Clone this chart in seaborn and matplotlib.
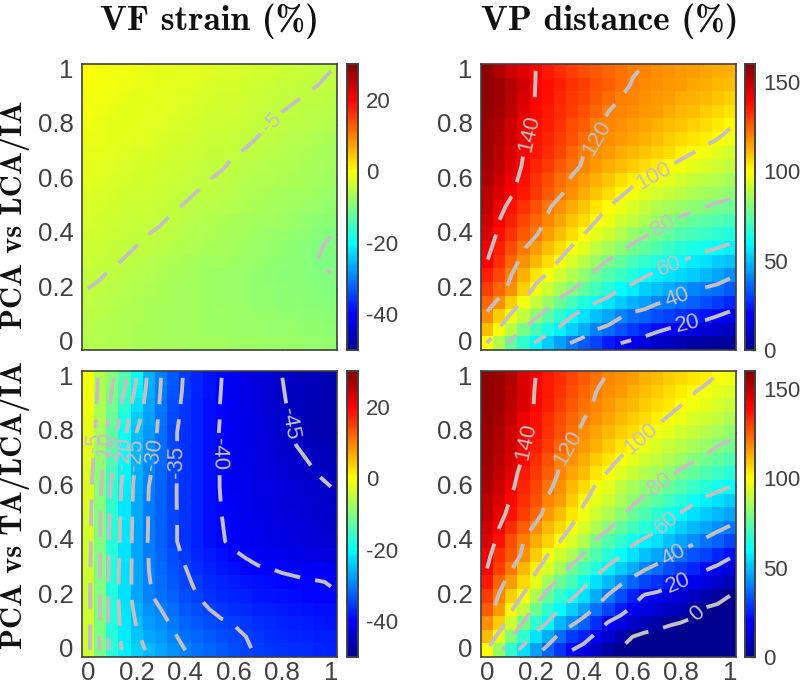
import matplotlib
matplotlib.use('Agg')
import matplotlib.pyplot as plt
from matplotlib.colors import LinearSegmentedColormap
import seaborn as sns
import numpy as np
import pandas as pd

sns.set_style('white')
plt.rcParams['font.family'] = ['Liberation Sans', 'DejaVu Sans']
plt.rcParams['axes.unicode_minus'] = False

# rows run from y = 1 (top) down to y = 0, columns from x = 0 to x = 1
grid = [0, .05, .1, .15, .2, .25, .3, .35, .4, .45, .5, .55, .6, .65, .7, .75, .8, .85, .9, .95, 1]
grid_rows = grid[::-1]
tick_values = [0, .2, .4, .6, .8, 1]
tick_labels = ['0', '0.2', '0.4', '0.6', '0.8', '1']

strain_lca = [
    [-.5, -.7, -1, -1.2, -1.5, -1.7, -1.9, -2.1, -2.3, -2.5, -2.7, -2.9, -3.1, -3.3, -3.5, -3.7, -3.9, -4.1, -4.4, -4.7, -5],
    [-.7, -.9, -1.2, -1.4, -1.6, -1.8, -2.1, -2.3, -2.5, -2.8, -3, -3.2, -3.4, -3.7, -3.9, -4.1, -4.4, -4.6, -4.8, -5, -5.3],
    [-1, -1.2, -1.5, -1.7, -1.9, -2.1, -2.4, -2.6, -2.8, -3.1, -3.3, -3.5, -3.7, -4, -4.2, -4.4, -4.7, -4.9, -5.1, -5.3, -5.6],
    [-1.2, -1.4, -1.7, -1.9, -2.1, -2.4, -2.6, -2.8, -3.1, -3.3, -3.5, -3.8, -4, -4.2, -4.5, -4.7, -5, -5.2, -5.4, -5.6, -5.9],
    [-1.4, -1.6, -1.9, -2.1, -2.4, -2.6, -2.8, -3.1, -3.3, -3.6, -3.8, -4, -4.3, -4.5, -4.8, -5, -5.2, -5.4, -5.6, -5.9, -6.2],
    [-1.6, -1.8, -2.1, -2.3, -2.6, -2.8, -3.1, -3.3, -3.6, -3.8, -4.1, -4.3, -4.6, -4.8, -5.05, -5.3, -5.5, -5.8, -6, -6.3, -6.6],
    [-1.9, -2.1, -2.4, -2.6, -2.9, -3.1, -3.4, -3.6, -3.9, -4.1, -4.4, -4.6, -4.9, -5.1, -5.3, -5.6, -5.9, -6.1, -6.4, -6.7, -7],
    [-2.2, -2.4, -2.7, -2.9, -3.2, -3.4, -3.7, -3.9, -4.2, -4.4, -4.7, -4.9, -5.2, -5.4, -5.7, -5.9, -6.2, -6.5, -6.8, -7.1, -7.4],
    [-2.5, -2.7, -3, -3.2, -3.5, -3.7, -4, -4.2, -4.5, -4.7, -5, -5.2, -5.5, -5.7, -6, -6.2, -6.5, -6.8, -7.1, -7.4, -7.8],
    [-2.8, -3.05, -3.3, -3.55, -3.8, -4.05, -4.3, -4.55, -4.8, -5.05, -5.3, -5.6, -5.8, -6.1, -6.4, -6.6, -6.9, -7.2, -7.5, -7.8, -8.2],
    [-3.1, -3.35, -3.6, -3.85, -4.1, -4.35, -4.6, -4.85, -5.1, -5.35, -5.6, -5.9, -6.1, -6.4, -6.7, -7, -7.3, -7.6, -7.9, -8.3, -8.7],
    [-3.4, -3.65, -3.9, -4.15, -4.4, -4.65, -4.9, -5.2, -5.4, -5.7, -6, -6.3, -6.6, -6.9, -7.2, -7.5, -7.8, -8.1, -8.5, -8.9, -9.3],
    [-3.7, -3.95, -4.2, -4.45, -4.7, -5, -5.2, -5.5, -5.8, -6.1, -6.4, -6.7, -7, -7.3, -7.6, -7.9, -8.2, -8.6, -9, -9.5, -9.95],
    [-4, -4.25, -4.5, -4.75, -5.05, -5.3, -5.6, -5.9, -6.2, -6.5, -6.8, -7.1, -7.4, -7.7, -8, -8.3, -8.6, -9, -9.4, -9.9, -10.3],
    [-4.3, -4.55, -4.8, -5.1, -5.4, -5.7, -6, -6.3, -6.6, -6.9, -7.2, -7.5, -7.8, -8.1, -8.4, -8.7, -9, -9.3, -9.6, -10.05, -10.3],
    [-4.7, -4.9, -5.2, -5.5, -5.8, -6.1, -6.4, -6.7, -7, -7.3, -7.6, -7.9, -8.1, -8.4, -8.6, -8.9, -9.1, -9.3, -9.5, -9.7, -9.95],
    [-5, -5.2, -5.5, -5.8, -6.1, -6.4, -6.7, -6.9, -7.2, -7.4, -7.6, -7.9, -8.1, -8.3, -8.5, -8.7, -8.9, -9.1, -9.3, -9.5, -9.7],
    [-5.3, -5.5, -5.8, -6.1, -6.4, -6.6, -6.8, -7, -7.3, -7.5, -7.7, -7.9, -8.1, -8.3, -8.5, -8.7, -8.8, -9, -9.1, -9.3, -9.4],
    [-5.6, -5.8, -6, -6.3, -6.5, -6.7, -6.9, -7.1, -7.3, -7.5, -7.7, -7.8, -8, -8.1, -8.3, -8.4, -8.6, -8.7, -8.8, -9, -9.1],
    [-5.8, -6, -6.2, -6.4, -6.6, -6.8, -7, -7.2, -7.3, -7.5, -7.6, -7.7, -7.9, -8, -8.1, -8.2, -8.3, -8.4, -8.5, -8.7, -8.8],
    [-6, -6.2, -6.3, -6.5, -6.7, -6.8, -7, -7.1, -7.2, -7.3, -7.4, -7.5, -7.6, -7.7, -7.8, -7.9, -8, -8.1, -8.2, -8.4, -8.5],
]

strain_ta = [
    [-1, -6, -9.5, -14, -20, -26, -30, -33, -35.5, -37, -38.5, -40, -41, -42, -43, -44, -45, -45.5, -46, -46.5, -47],
    [-1.2, -6.2, -10.2, -15.2, -21.2, -26.5, -30.2, -33.4, -35.6, -37.1, -38.6, -40.1, -41, -42, -42.9, -43.9, -44.9, -45.5, -46, -46.5, -47],
    [-1.5, -6.5, -11, -16.5, -22.5, -27, -30.5, -33.8, -35.8, -37.3, -38.8, -40.2, -41, -42, -42.9, -43.8, -44.8, -45.4, -46, -46.6, -47],
    [-1.8, -6.8, -11.8, -17.8, -23.8, -27.5, -30.8, -34.1, -35.9, -37.4, -38.9, -40.2, -41, -42, -42.8, -43.7, -44.6, -45.3, -46, -46.6, -47],
    [-2, -7, -12.5, -19, -25, -28, -31, -34.5, -36, -37.5, -39, -40.3, -41, -42, -42.8, -43.6, -44.5, -45.3, -46, -46.6, -47],
    [-2.3, -7.6, -13.4, -19.6, -25.4, -28.5, -31.4, -34.5, -36, -37.5, -39, -40.3, -41, -41.9, -42.6, -43.4, -44.2, -44.9, -45.5, -46.1, -46.5],
    [-2.5, -8.3, -14.3, -20.3, -25.8, -29, -31.8, -34.5, -36.1, -37.5, -39, -40.3, -41, -41.9, -42.5, -43.2, -43.9, -44.5, -45, -45.6, -46],
    [-2.8, -8.9, -15.1, -20.9, -26.1, -29.5, -32.1, -34.5, -36.1, -37.5, -39, -40.2, -41, -41.8, -42.3, -42.9, -43.5, -44.1, -44.6, -45.1, -45.5],
    [-3, -9.5, -16, -21.5, -26.5, -30, -32.5, -34.5, -36.2, -37.5, -39, -40.2, -41, -41.7, -42.2, -42.7, -43.2, -43.7, -44.1, -44.6, -45],
    [-3.1, -9.6, -16.3, -21.6, -26.6, -30.1, -32.5, -34.5, -36.2, -37.5, -39, -40.1, -40.9, -41.5, -42.1, -42.6, -43, -43.5, -43.9, -44.3, -44.7],
    [-3.3, -9.8, -16.5, -21.8, -26.8, -30.2, -32.5, -34.5, -36.1, -37.5, -38.9, -40, -40.8, -41.4, -41.9, -42.4, -42.9, -43.3, -43.7, -44.1, -44.4],
    [-3.4, -9.9, -16.8, -21.9, -26.9, -30.2, -32.5, -34.5, -36, -37.5, -38.8, -39.9, -40.6, -41.2, -41.7, -42.2, -42.7, -43, -43.4, -43.8, -44.1],
    [-3.5, -10, -17, -22, -27, -30.3, -32.5, -34.5, -36, -37.5, -38.8, -39.8, -40.5, -41, -41.5, -42, -42.5, -42.8, -43.2, -43.5, -43.8],
    [-3.6, -10, -17.1, -22.1, -27, -30.1, -32.1, -34, -35.5, -36.9, -38.1, -39, -39.7, -40.2, -40.7, -41.2, -41.6, -41.9, -42.3, -42.6, -42.8],
    [-3.8, -10, -17.3, -22.3, -27, -30, -31.8, -33.5, -34.9, -36.3, -37.4, -38.3, -38.9, -39.4, -39.8, -40, -40.3, -40.5, -40.7, -40.9, -41.1],
    [-3.9, -10, -17.4, -22.4, -27, -29.8, -31.4, -33, -34.4, -35.6, -36.7, -37.5, -38.1, -38.6, -38.9, -39.2, -39.4, -39.6, -39.8, -39.9, -40.1],
    [-4, -10, -17.5, -22.5, -27, -29.6, -31, -32.5, -33.8, -35, -36, -36.7, -37.3, -37.8, -38.2, -38.6, -39, -39.3, -39.5, -39.7, -39.8],
    [-4, -10.1, -17.4, -22.1, -26.2, -28.6, -30, -31.5, -32.9, -34, -35, -35.7, -36.3, -36.8, -37.2, -37.7, -38.1, -38.4, -38.6, -38.9, -39],
    [-4, -10.2, -17.3, -21.8, -25.3, -27.6, -29, -30.5, -31.9, -33, -34, -34.7, -35.1, -35.8, -36.3, -36.8, -37.2, -37.6, -38, -38.3, -38.6],
    [-4, -10.4, -17.1, -21.4, -24.4, -26.6, -28, -29.5, -31, -32, -33, -33.9, -34.5, -35, -35.7, -36.3, -36.7, -37, -37.3, -37.6, -37.8],
    [-4, -10.5, -17, -21, -23.5, -25.6, -27, -28.5, -30, -31, -32, -33, -34, -34.7, -35.3, -35.8, -36.2, -36.5, -36.8, -37.1, -37.4],
]

distance_lca = [
    [157.5, 152, 148, 144, 140, 136, 133, 130, 128, 126, 124, 122, 120.5, 119.5, 118, 117, 116, 115, 114, 113, 112],
    [157.3, 155.5, 151.5, 147, 139.8, 138, 135, 132, 130, 127, 125, 122, 119.5, 118.5, 117, 116, 115, 113.5, 112.5, 111, 110],
    [157, 155, 151, 146, 139.5, 137, 134, 131, 129, 126, 123, 120, 119, 117, 116, 115, 113, 112, 111, 109, 107],
    [156.5, 154, 150, 144, 139, 136, 133, 130, 127, 124, 120, 119, 118, 116, 115, 113, 111, 110, 108, 106, 104],
    [156, 153, 148, 143, 138, 135, 132, 128, 125, 120.5, 119, 117, 115.5, 114, 112, 110, 109, 107, 105, 103, 101],
    [155.5, 152, 147, 142, 137, 134, 130, 127, 123, 120, 118, 116, 114, 112, 110, 108, 106, 104, 102, 100, 97],
    [155, 151, 146, 140, 136, 133, 129, 124, 120, 118, 116, 113, 111, 109, 107, 105, 102, 100, 98, 95, 93],
    [154, 150, 145, 139, 134, 131, 126, 122, 119, 116, 113, 110, 108, 105, 103, 100, 98, 96, 94, 92, 90],
    [153, 148, 143, 137, 132, 128, 123, 119, 115, 112, 109, 105, 102, 100, 98, 95, 93, 91, 89, 88, 86],
    [151, 146, 141, 136, 131, 126, 121, 117, 113, 109, 105, 101, 98, 95, 93, 91, 89, 87, 85, 84, 82],
    [150, 143, 137, 132, 127, 121, 117, 113, 109, 104, 100, 97, 94, 91, 88, 86, 84, 82, 80, 78, 77],
    [148, 140, 135, 129, 124, 119, 114, 109, 105, 100, 97, 93, 90, 87, 84, 81, 78, 76, 74, 73, 71],
    [146, 138, 132, 126, 121, 115, 110, 105, 100, 96, 92, 88, 84, 81, 78, 75, 73, 71, 69, 67, 65],
    [143, 135, 128, 121, 115, 110, 105, 99, 95, 90, 86, 82, 78, 75, 72, 69, 66, 64, 62, 60, 58],
    [140, 133, 124, 117, 111, 105, 99, 94, 89, 84, 79, 75, 71, 68, 65, 62, 60, 57, 55, 52, 50],
    [135, 129, 120, 112, 104, 99, 93, 88, 83, 77, 73, 69, 65, 61, 58, 56, 54, 52, 49, 46, 42],
    [130, 124, 117, 107, 98, 92, 86, 81, 75, 70, 66, 60, 57, 53, 50, 47, 44, 41, 39, 37, 34],
    [124, 118, 108, 98, 91, 84, 77, 71, 65, 60, 56, 52, 48, 45, 41, 39, 37, 35, 32, 29, 26],
    [118, 108, 98, 90, 82, 74, 67, 60, 55, 50, 46, 41, 37, 35, 32, 30, 28, 25, 23, 20, 17],
    [110, 99, 89, 79, 71, 64, 58, 53, 47, 40, 37, 33, 29, 26, 22, 19, 17, 15, 13, 11, 9],
    [100, 88, 76, 68, 59, 52, 45, 39, 34, 30, 24, 20, 17, 14, 11, 9, 7, 5, 4, 3, 2],
]

distance_ta = [
    [157.5, 155.8, 152, 146, 140, 136, 133, 129, 126, 122, 119, 117, 115, 112, 110, 108, 106, 104, 102, 99, 97],
    [157.3, 155, 151, 145.8, 139.3, 136, 132, 128, 124, 120, 118, 116, 113, 110, 108, 105, 103, 100.5, 98, 96, 94],
    [157, 155, 150, 145, 139, 135, 130, 126, 122, 119, 116, 113, 111, 108, 105, 103, 100, 98, 96, 94, 91],
    [156.5, 154, 149, 143, 138, 133, 128, 124, 120, 117, 114, 111, 108, 105, 102, 99, 97, 94, 92, 90, 87],
    [156, 153, 148, 142, 137, 132, 127, 122, 118, 114, 111, 108, 105, 101, 98, 96, 93, 91, 88, 86, 83],
    [155.5, 152, 147, 141, 135, 130, 124, 119, 116, 112, 108, 104, 100, 97, 94, 91, 89, 86, 84, 80, 78],
    [155, 151, 146, 139, 133, 127, 120, 117, 113, 108, 104, 99, 96, 93, 90, 87, 84, 81, 78, 75, 72],
    [154, 149, 144, 136, 131, 125, 119, 114, 110, 104, 99, 95, 91, 88, 85, 82, 78, 75, 72, 69, 66],
    [153, 148, 142, 134, 129, 122, 117, 111, 105, 99, 95, 90, 86, 83, 80, 76, 73, 69, 66, 63, 60],
    [151, 146, 139, 133, 127, 119, 115, 108, 101, 96, 92, 87, 82, 78, 74, 70, 66, 62, 58, 55, 52],
    [150, 143, 137, 130, 124, 116, 110, 104, 97, 92, 87, 82, 76, 72, 67, 63, 59, 55, 52, 49, 46],
    [148, 140, 133, 125, 118, 111, 106, 99, 94, 87, 81, 75, 70, 66, 62, 57, 53, 49, 46, 42, 39],
    [146, 137, 128, 120, 113, 107, 100, 94, 88, 79, 73, 68, 62, 58, 55, 50, 46, 42, 38, 35, 31],
    [143, 133, 126, 118, 108, 100, 93, 87, 79, 72, 66, 61, 55, 50, 46, 42, 37, 33, 30, 26, 22],
    [140, 130, 121, 111, 102, 94, 86, 77, 71, 65, 58, 52, 47, 41, 37, 32, 29, 26, 21, 18, 14],
    [136, 124, 115, 106, 96, 85, 77, 71, 63, 55, 49, 42, 36, 31, 28, 24, 20, 17, 14, 11, 8],
    [131, 119, 107, 99, 87, 76, 68, 62, 55, 47, 39, 32, 25, 19, 17, 14, 12, 9, 6, 3, 0],
    [125, 116, 101, 90, 77, 67, 60, 53, 46, 38, 31, 24, 18, 15, 12, 9, 7, 3, -1, -2, -3.5],
    [118, 108, 92, 79, 68, 59, 49, 42, 35, 27, 19, 15, 11, 7, 5, 1.5, -.3, -2, -3, -5, -7],
    [110, 96, 81, 68, 56, 47, 37, 29, 25, 17, 12, 6, 0, -3, -5, -6, -8, -9, -10, -11, -12],
    [100, 84, 68, 55, 45, 36, 28, 20, 15, 10, 4, -1, -4, -6, -8, -10, -11, -12, -13, -14, -15],
]

GRAY = '#404040'
LINE = '#c4c0c0'
DASHES = (0, (6.8, 3.9))

# MATLAB's jet, yellow sits at 0.625 (matplotlib's own jet is slightly shifted)
matlab_jet = LinearSegmentedColormap('matlab_jet', {
    'red': [(0, 0, 0), (.375, 0, 0), (.625, 1, 1), (.875, 1, 1), (1, .5, .5)],
    'green': [(0, 0, 0), (.125, 0, 0), (.375, 1, 1), (.625, 1, 1), (.875, 0, 0), (1, 0, 0)],
    'blue': [(0, .5625, .5625), (.125, 1, 1), (.375, 1, 1), (.625, 0, 0), (1, 0, 0)],
}, N=256)


def to_fig(box):
    left, top, right, bottom = box
    return [left / 800, 1 - bottom / 686, (right - left) / 800, (bottom - top) / 686]


def draw_panel(values, box, cbar_box, vmin, vmax, cbar_ticks, levels, label_at, show_x):
    fig = plt.gcf()
    ax = fig.add_axes(to_fig(box))
    cax = fig.add_axes(to_fig(cbar_box))
    df = pd.DataFrame(values, index=grid_rows, columns=grid)
    sns.heatmap(df, ax=ax, cbar_ax=cax, cmap=matlab_jet, vmin=vmin, vmax=vmax, square=False)

    # heatmap cells are centred on index + 0.5
    xs = np.arange(len(grid)) + 0.5
    ys = np.arange(len(grid_rows)) + 0.5
    cs = ax.contour(xs, ys, df.values, levels=levels, colors=LINE, linewidths=2.8,
                    linestyles=[DASHES])
    spots = [(x * 20 + 0.5, (1 - y) * 20 + 0.5) for x, y in label_at]
    ax.clabel(cs, manual=spots, fmt='%d', fontsize=16, colors=LINE, inline=True, inline_spacing=5)
    ax.set_xlim(0, 21)
    ax.set_ylim(21, 0)

    ax.set_xticks([t * 20 + 0.5 for t in tick_values])
    ax.set_yticks([(1 - t) * 20 + 0.5 for t in tick_values])
    ax.set_xticklabels(tick_labels if show_x else [], rotation=0, fontsize=18.5)
    ax.set_yticklabels(tick_labels, rotation=0, fontsize=18.5)
    ax.set_xlabel('')
    ax.set_ylabel('')
    ax.tick_params(direction='in', length=3.5, width=1, top=True, right=True, bottom=True, left=True,
                   color=GRAY, labelcolor=GRAY, pad=6)
    ax.tick_params(axis='x', pad=3)
    for spine in ax.spines.values():
        spine.set_visible(True)
        spine.set_color(GRAY)
        spine.set_linewidth(1.2)

    cax.set_yticks(cbar_ticks)
    cax.set_yticklabels([str(t) for t in cbar_ticks], fontsize=16)
    cax.tick_params(direction='in', length=3, width=1, left=False, right=True, color=GRAY,
                    labelcolor=GRAY, pad=6)
    for spine in cax.spines.values():
        spine.set_visible(True)
        spine.set_color(GRAY)
        spine.set_linewidth(1.2)
    return ax


fig = plt.figure(figsize=(8, 6.86), dpi=100)

strain_ticks = [-40, -20, 0, 20]
distance_ticks = [0, 50, 100, 150]
strain_levels = [-45, -40, -35, -30, -25, -20, -15, -10, -5]
distance_levels = [0, 20, 40, 60, 80, 100, 120, 140]

draw_panel(strain_lca, (82, 64, 337, 350), (347, 64, 358, 350), -50, 30, strain_ticks,
           strain_levels, [(.765, .8)], False)
draw_panel(distance_lca, (481, 64, 736, 350), (745, 64, 755, 350), 0, 160, distance_ticks,
           distance_levels, [(.163, .77), (.43, .76), (.68, .63), (.73, .425), (.755, .27), (.78, .17), (.825, .075)],
           False)
draw_panel(strain_ta, (82, 371, 337, 657), (347, 371, 358, 657), -50, 30, strain_ticks,
           strain_levels, [(.03, .76), (.08, .74), (.12, .73), (.16, .72), (.19, .72), (.27, .72), (.37, .69), (.54, .72), (.83, .83)],
           True)
draw_panel(distance_ta, (481, 371, 736, 657), (745, 371, 755, 657), 0, 160, distance_ticks,
           distance_levels, [(.15, .767), (.34, .735), (.63, .78), (.71, .61), (.745, .46), (.765, .35), (.785, .245), (.85, .15)],
           True)

title_font = dict(family='cmb10', color='#111111')
fig.text(210 / 800, 1 - 30 / 686, 'VF strain (%)', ha='center', va='baseline', fontsize=25.5, **title_font)
fig.text(610 / 800, 1 - 30 / 686, 'VP distance (%)', ha='center', va='baseline', fontsize=25.5, **title_font)
fig.text(30 / 800, 1 - 215 / 686, 'PCA vs LCA/IA', rotation=90, ha='right', va='center', fontsize=22, **title_font)
fig.text(30 / 800, 1 - 505 / 686, 'PCA vs TA/LCA/IA', rotation=90, ha='right', va='center', fontsize=22, **title_font)

plt.savefig('out.png', dpi=100)
